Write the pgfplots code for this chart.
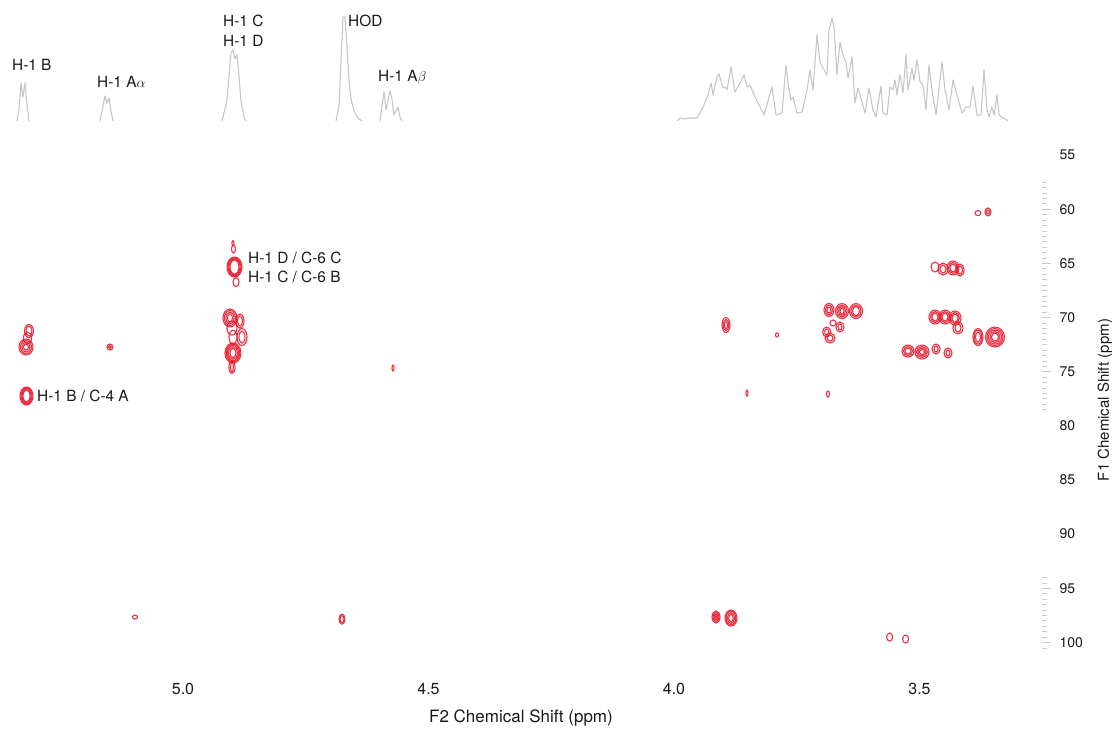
\documentclass[border=0pt]{standalone}
\usepackage{pgfplots}
\pgfplotsset{compat=1.18}
\usepackage{pgfplotstable}
\usepackage{fontspec}
\setmainfont{TeX Gyre Heros}
\definecolor{nmrred}{RGB}{232,24,44}
\definecolor{specgray}{RGB}{198,198,198}
\definecolor{txt}{RGB}{25,25,25}
\definecolor{tickgray}{RGB}{200,200,200}

\def\ringx{1}\def\ringy{1}
\pgfdeclareplotmark{ellip}{\pgfpathellipse{\pgfpointorigin}{\pgfpoint{\ringx pt}{0pt}}{\pgfpoint{0pt}{\ringy pt}}\pgfusepathqstroke}

% 1D proton projection (x in ppm, h = trace height)
\pgfplotstableread{
x h
5.3727 -3
5.3400 -3
5.3381 0
5.3340 11
5.3299 38
5.3259 24
5.3218 38
5.3177 16
5.3136 0
5.3100 -3
5.1720 -3
5.1690 0
5.1629 15
5.1589 25
5.1548 18
5.1507 23
5.1466 10
5.1426 0
5.1400 -3
4.9230 -3
4.9206 0
4.9145 12
4.9104 21
4.9063 45
4.9022 68
4.8982 71
4.8941 62
4.8900 66
4.8860 45
4.8819 20
4.8758 4
4.8717 0
4.8690 -3
4.6910 -3
4.6884 0
4.6823 15
4.6782 60
4.6741 104
4.6701 104
4.6660 75
4.6619 40
4.6578 22
4.6517 10
4.6436 3
4.6354 0
4.6330 -3
4.6010 -3
4.5988 0
4.5947 15
4.5906 29
4.5866 11
4.5825 20
4.5784 30
4.5743 22
4.5702 6
4.5661 10
4.5621 14
4.5580 4
4.5539 0
4.5510 -3
3.9983 -3
3.9881 3
3.9780 2
3.9674 3
3.9531 3
3.9409 14
3.9307 26
3.9246 38
3.9205 26
3.9124 44
3.9083 47
3.9002 33
3.8961 34
3.8920 31
3.8839 54
3.8757 29
3.8655 38
3.8574 46
3.8513 34
3.8452 36
3.8350 24
3.8248 14
3.8167 6
3.8004 34
3.7922 6
3.7800 8
3.7719 56
3.7678 38
3.7617 21
3.7576 24
3.7494 8
3.7393 9
3.7291 31
3.7230 51
3.7169 31
3.7087 86
3.7026 59
3.6945 51
3.6884 46
3.6843 91
3.6782 103
3.6741 94
3.6680 46
3.6619 79
3.6558 66
3.6497 59
3.6456 43
3.6374 64
3.6313 18
3.6252 33
3.6171 19
3.6110 8
3.6028 33
3.5947 11
3.5886 4
3.5784 35
3.5743 8
3.5661 6
3.5600 34
3.5539 31
3.5499 41
3.5458 26
3.5397 46
3.5336 28
3.5274 66
3.5234 31
3.5152 53
3.5112 41
3.5050 61
3.4989 39
3.4928 36
3.4867 11
3.4806 56
3.4745 31
3.4663 6
3.4541 59
3.4480 31
3.4399 11
3.4317 41
3.4236 26
3.4134 8
3.4052 14
3.3971 14
3.3910 35
3.3828 6
3.3747 6
3.3686 51
3.3625 11
3.3584 4
3.3523 14
3.3482 6
3.3421 26
3.3380 6
3.3299 3
3.3217 1
3.3150 -3
3.2505 -3
}\spectrum

% HSQC contour rings: centre (x ppm, y ppm), radii in pt
\pgfplotstableread{
x y rx ry
5.3187 77.25 6.5 9
5.3187 77.25 5.5 8
5.3187 77.25 4.5 7
5.3187 77.25 3.5 6
5.3136 71.25 4.5 6.5
5.3136 71.25 3 5
5.3167 71.90 4 6
5.3197 72.73 7 8
5.3197 72.73 5.5 6.5
5.3197 72.73 4 5
5.3197 72.73 2.5 3
5.1487 72.73 3 3
5.1487 72.73 1.5 1.5
4.8951 65.34 7.5 10
4.8951 65.34 6.5 9
4.8951 65.34 5.5 8
4.8951 65.34 4.5 7
4.8971 63.68 2 4
4.8920 66.73 3 4.5
4.8982 63.13 1 2.5
4.9043 70.05 7 9
4.9043 70.05 5.5 7.5
4.9043 70.05 4 6
4.9043 70.05 2.5 4
4.8839 70.33 4 7
4.8839 70.33 2.5 5
4.8798 71.81 5 8.5
4.8798 71.81 3 6
4.9002 70.98 5 7
4.8982 71.81 4 7
4.8982 73.28 8 10
4.8982 73.28 6.8 8.8
4.8982 73.28 5.6 7.6
4.8982 73.28 4.4 6.2
4.8982 73.28 3 4.5
4.9002 74.58 3 6.5
4.9002 74.58 1.5 4.5
4.5723 74.67 1 3
3.8941 70.70 4 7.5
3.8941 70.70 2.8 5.5
3.8941 70.70 1.5 3.5
3.7902 71.62 1.5 2
3.6843 69.31 5 6.5
3.6843 69.31 3.5 5
3.6843 69.31 2 3
3.6578 69.41 6.5 7.5
3.6578 69.41 5 6
3.6578 69.41 3.5 4.5
3.6578 69.41 2 3
3.6293 69.41 6.5 7.5
3.6293 69.41 5 6
3.6293 69.41 3.5 4.5
3.6761 70.51 3 3
3.6619 70.88 4 5
3.6619 70.88 2 3
3.6890 71.34 4 5
3.6890 71.34 2 3
3.6823 71.90 5 5
3.6823 71.90 3 3
3.4684 65.34 4 5
3.4521 65.53 5 6
3.4521 65.53 3 4
3.4318 65.43 6 7
3.4318 65.43 4.5 5.5
3.4318 65.43 3 4
3.4175 65.62 4 6
3.4175 65.62 2.5 4
3.3809 60.36 3 2.5
3.3605 60.26 3 4
3.3605 60.26 1.5 2
3.4684 69.96 6 7
3.4684 69.96 4.5 5.5
3.4684 69.96 3 4
3.4480 69.96 6 7
3.4480 69.96 4.5 5.5
3.4480 69.96 3 4
3.4277 70.05 6 7
3.4277 70.05 4.5 5.5
3.4277 70.05 3 4
3.4216 70.97 5 6
3.4216 70.97 3 4
3.3809 71.81 5 8.5
3.3809 71.81 3.8 7
3.3809 71.81 2.5 5
3.3462 71.81 9.5 10
3.3462 71.81 8 8.5
3.3462 71.81 6.5 7
3.3462 71.81 5 5.5
3.3462 71.81 3.5 4
3.5234 73.10 6 6
3.5234 73.10 4.5 4.5
3.5234 73.10 3 3
3.4949 73.19 7 7
3.4949 73.19 5.5 5.5
3.4949 73.19 4 4
3.4949 73.19 2.5 2.5
3.4663 72.91 4 5
3.4663 72.91 2 3
3.4419 73.28 4 5
3.4419 73.28 2 3
3.8513 76.98 1 3
3.6863 77.07 1.5 3
5.0977 97.66 2.5 2
4.6761 97.85 3 5
4.6761 97.85 2 3.5
3.9144 97.66 4 6
3.9144 97.66 3 4.5
3.9144 97.66 2 3
3.9144 97.66 1 1.5
3.8839 97.75 6 8
3.8839 97.75 4.8 6.8
3.8839 97.75 3.6 5.4
3.8839 97.75 2.2 3.8
3.5608 99.51 3 4
3.5282 99.69 3 4
}\peaks

\begin{document}
\begin{tikzpicture}
\path[use as bounding box] (0pt,0pt) rectangle (1118pt,-730pt);

% ---- top 1D projection ----
\begin{axis}[
  at={(0pt,0pt)}, anchor=north west,
  scale only axis, width=1042pt, height=121pt,
  xmin=3.2505, xmax=5.3727, x dir=reverse,
  ymin=0, ymax=121,
  hide axis, clip=true,
]
\addplot[specgray, line width=1.1pt, line join=round] table[x=x, y=h] {\spectrum};
\begin{scope}[every node/.style={inner sep=0pt, text=txt, font=\fontsize{15.4}{18}\selectfont}]
\node[anchor=base west] at (axis cs:5.3483,50) {H-1 B};
\node[anchor=base west] at (axis cs:5.1751,33) {H-1 A$\alpha$};
\node[anchor=base west] at (axis cs:4.9185,94.5) {H-1 C};
\node[anchor=base west] at (axis cs:4.9185,74.5) {H-1 D};
\node[anchor=base west] at (axis cs:4.6639,94) {HOD};
\node[anchor=base west] at (axis cs:4.6028,39.5) {H-1 A$\beta$};
\end{scope}
\end{axis}

% ---- 2D HSQC ----
\begin{axis}[
  at={(0pt,-125pt)}, anchor=north west,
  scale only axis, width=1042pt, height=550pt,
  xmin=3.2505, xmax=5.3727, x dir=reverse,
  ymin=52.23, ymax=103.01, y dir=reverse,
  axis x line*=bottom, axis y line*=right,
  axis line style={draw=none},
  tick align=outside,
  major tick length=0pt,
  xtick={5.0,4.5,4.0,3.5},
  xticklabels={5.0,4.5,4.0,3.5},
  ytick={55,60,...,100},
  minor ytick={57.5,58,58.5,59,59.5,60,60.5,61,61.5,62,62.5,63,63.5,64,64.5,65,65.5,66,66.5,67,67.5,68,68.5,69,69.5,70,70.5,71,71.5,72,72.5,73,73.5,74,74.5,75,75.5,76,76.5,77,77.5,78,78.5,94,94.5,95,95.5,96,96.5,97,97.5,98,98.5,99,99.5,100,100.5},
  minor tick length=5pt,
  minor tick style={tickgray, line width=0.6pt},
  extra y ticks={60,65,70,75,95,100},
  extra y tick labels={},
  extra y tick style={major tick length=9pt, tick style={tickgray, line width=0.6pt}},
  xticklabel style={font=\fontsize{16}{19}\selectfont, text=txt, yshift=-5pt},
  yticklabel style={font=\fontsize{14}{17}\selectfont, text=txt, xshift=14pt},
  /pgf/number format/assume math mode=true,
  xlabel={F2 Chemical Shift (ppm)},
  ylabel={F1 Chemical Shift (ppm)},
  every axis x label/.style={at={(rel axis cs:0.5,0)}, anchor=center, yshift=-43pt, font=\fontsize{17}{20}\selectfont, text=txt},
  every axis y label/.style={at={(rel axis cs:1,0.5)}, anchor=center, xshift=63pt, rotate=90, font=\fontsize{15}{18}\selectfont, text=txt},
  clip=true,
]
\addplot[
  only marks, mark=ellip,
  visualization depends on={\thisrow{rx} \as \ringx},
  visualization depends on={\thisrow{ry} \as \ringy},
  scatter, scatter src=explicit, 
  scatter/use mapped color={draw=nmrred, fill=none},
  mark options={line width=1.1pt, draw=nmrred, draw opacity=0.9},
] table[x=x, y=y, meta=rx] {\peaks};
\begin{scope}[every node/.style={inner sep=0pt, text=txt, font=\fontsize{15.4}{18}\selectfont}]
\node[anchor=base west] at (axis cs:4.8676,65.02) {H-1 D / C-6 C};
\node[anchor=base west] at (axis cs:4.8676,66.73) {H-1 C / C-6 B};
\node[anchor=base west] at (axis cs:5.2973,77.72) {H-1 B / C-4 A};
\end{scope}
\end{axis}
\end{tikzpicture}
\end{document}
